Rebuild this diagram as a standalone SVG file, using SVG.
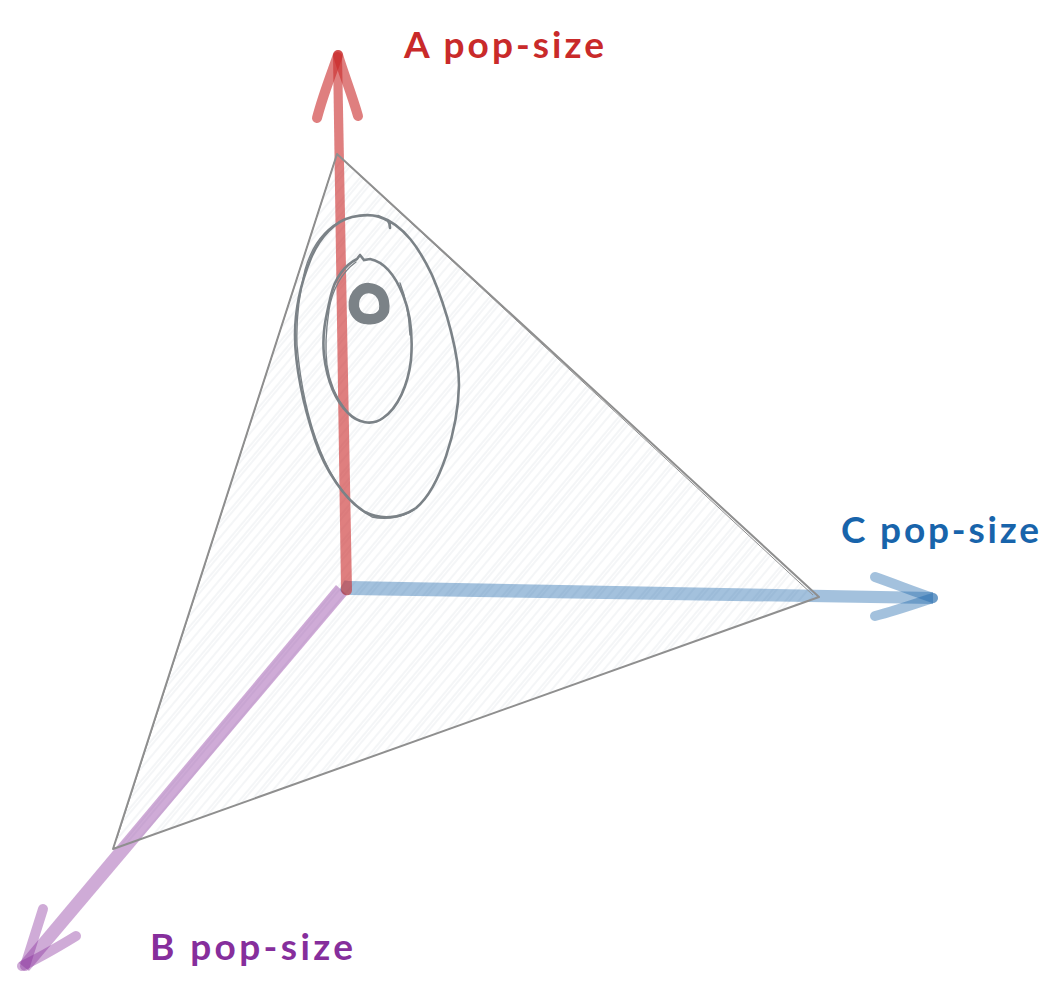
<svg xmlns="http://www.w3.org/2000/svg" width="1063" height="992" viewBox="0 0 1063 992">
  <style>
    .label { font-family: "Lato", "Liberation Sans", sans-serif; font-size: 37px; font-weight: 700; }
    .head { fill: none; stroke-width: 10; stroke-linecap: round; stroke-linejoin: round; }
    .edge { fill: none; stroke: #8f8f8f; stroke-width: 2; stroke-linejoin: round; }
    .edge2 { fill: none; stroke: #8f8f8f; stroke-width: 1; }
    .contour { fill: none; stroke: #7b8287; stroke-width: 2.6; stroke-linecap: round; }
    .contour2 { fill: none; stroke: #7b8287; stroke-width: 1.4; stroke-linecap: round; }
  </style>
  <defs>
    <pattern id="hatch" patternUnits="userSpaceOnUse" width="90" height="44" patternTransform="rotate(-50)">
      <g stroke="#e9ecef" stroke-width="1" fill="none">
        <path d="M0 3H90M0 6H90M0 13H90M0 20H90M0 23H90M0 30H90M0 38H90M0 41H90"/>
      </g>
    </pattern>
  </defs>
  <rect width="1063" height="992" fill="#ffffff"/>

  <g id="simplex-fill">
    <polygon points="337,154 819,597 113,849" fill="url(#hatch)"/>
  </g>

  <g id="connectors">
    <g id="axis-b">
      <path d="M336 585 L347 595 L29 971 L19 963 Z" fill="#862e9c" fill-opacity="0.4"/>
      <path class="head" d="M43 909 C37 928 31 947 25 966" stroke="#862e9c" stroke-opacity="0.4"/>
      <path class="head" d="M76 936 C58 947 39 958 22 966" stroke="#862e9c" stroke-opacity="0.4"/>
    </g>
    <g id="axis-c">
      <path d="M344 581 C345 580 346 581 350 581 L933 592 L933 604 L350 595 C345 595 341 594 340 589 Z" fill="#1864ab" fill-opacity="0.4"/>
      <path class="head" d="M875 577 C895 584 915 592 933 598" stroke="#1864ab" stroke-opacity="0.4"/>
      <path class="head" d="M875 616 C895 611 915 604 933 598" stroke="#1864ab" stroke-opacity="0.4"/>
    </g>
    <g id="axis-a">
      <path d="M333 55 C335 51 340 51 342 55 L352 590 C352 597 342 597 341 590 Z" fill="#c92a2a" fill-opacity="0.6"/>
      <path class="head" d="M317 118 C323 95 331 75 338 55" stroke="#c92a2a" stroke-opacity="0.6"/>
      <path class="head" d="M358 116 C352 95 344 75 338 55" stroke="#c92a2a" stroke-opacity="0.6"/>
    </g>
  </g>

  <g id="simplex">
    <path class="edge" d="M337 154 L819 597 L113 849 Z"/>
    <path class="edge2" d="M340 157 L813 595 M335 160 L117 838"/>
  </g>

  <g id="contours">
    <path class="contour" d="M390 228 C390 224 389 222 388 221 C378 214 365 214 352 217 C335 221 320 237 311 258 C300 285 295 310 295 335 C295 365 303 405 315 440 C325 470 345 500 365 512 C380 520 400 519 416 508 C440 488 458 430 459 385 C459 355 447 310 432 275 C420 250 405 225 378 216"/>
    <path class="contour2" d="M345 219 C325 228 312 245 305 270 C299 295 296 320 297 345 C300 380 308 420 320 450 C332 480 350 505 372 517 C385 520 402 518 414 510"/>
    <path class="contour" d="M360 255 L357 259 C345 265 335 278 331 295 C325 320 322 335 324 355 C327 380 335 400 348 413 C358 423 372 426 383 418 C398 408 408 385 411 360 C413 335 410 312 403 295 C395 275 385 262 370 259 L364 260 L360 255"/>
    <path class="contour2" d="M356 262 C342 272 332 290 329 310 C326 330 325 350 327 365 C330 385 338 400 345 409 M400 283 C406 298 409 315 410 335"/>
    <path d="M360 291 C365 287 373 287 379 292 C384 297 385 305 384 311 C381 318 374 320 367 319 C361 319 356 315 354 308 C353 301 355 295 360 291 Z" fill="none" stroke="#7b8287" stroke-width="10.5" stroke-linejoin="round"/>
  </g>

  <g id="label-a"><text class="label" x="404" y="58" textLength="200" lengthAdjust="spacing" fill="#c92a2a">A pop-size</text></g>
  <g id="label-b"><text class="label" x="150" y="960" textLength="203" lengthAdjust="spacing" fill="#862e9c">B pop-size</text></g>
  <g id="label-c"><text class="label" x="841" y="543" textLength="198" lengthAdjust="spacing" fill="#1864ab">C pop-size</text></g>
</svg>
